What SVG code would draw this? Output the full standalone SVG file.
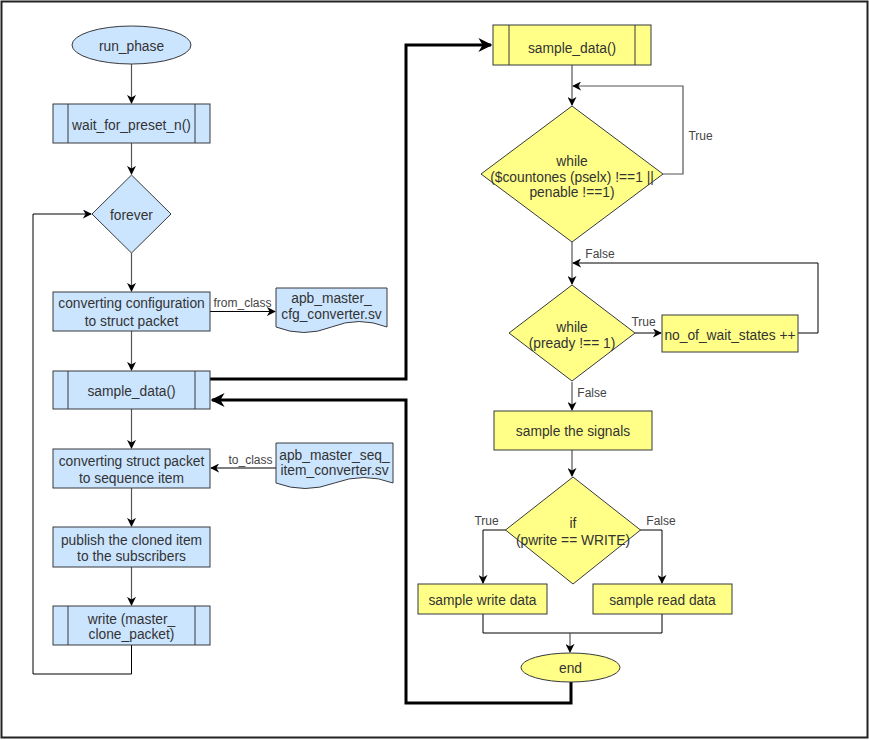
<svg xmlns="http://www.w3.org/2000/svg" width="869" height="740" viewBox="0 0 869 740">
<style>
text{font-family:"Liberation Sans",Arial,sans-serif;font-size:13.8px;fill:#333;text-anchor:middle}
.lbl{font-size:12px;fill:#444}
.blue{fill:#cce5ff;stroke:#36393d;stroke-width:1}
.yel{fill:#ffff88;stroke:#36393d;stroke-width:1}
.in{stroke:#36393d;stroke-width:1;fill:none}
.c{fill:none;stroke:#555;stroke-width:1.2}
.k{fill:none;stroke:#000;stroke-width:1}
.t{fill:none;stroke:#000;stroke-width:3}
</style>
<defs>
<marker id="a" viewBox="0 0 10 10" refX="9" refY="5" markerWidth="9" markerHeight="9" markerUnits="userSpaceOnUse" orient="auto"><path d="M0,0 L10,5 L0,10 L3,5 z" fill="#000"/></marker>
<marker id="at" viewBox="0 0 10 10" refX="9" refY="5" markerWidth="14" markerHeight="14" markerUnits="userSpaceOnUse" orient="auto"><path d="M0,0 L10,5 L0,10 L3,5 z" fill="#000"/></marker>
</defs>
<rect x="1.5" y="1.5" width="866" height="736" fill="#fff" stroke="#222" stroke-width="2"/>

<g id="connectors">
<path class="c" d="M131.5 64 V103" marker-end="url(#a)"/>
<path class="c" d="M131.5 143 V174" marker-end="url(#a)"/>
<path class="c" d="M131.5 253 V291" marker-end="url(#a)"/>
<path class="c" d="M131.5 331 V370" marker-end="url(#a)"/>
<path class="c" d="M131.5 409 V448" marker-end="url(#a)"/>
<path class="c" d="M131.5 488 V526" marker-end="url(#a)"/>
<path class="c" d="M131.5 567 V605" marker-end="url(#a)"/>
<path class="k" d="M131.5 645 V674 H33 V214 H91" marker-end="url(#a)"/>
<path class="k" d="M210 311.5 H275" marker-end="url(#a)"/>
<text class="lbl" x="242.5" y="307">from_class</text>
<path class="k" d="M276 468 H211" marker-end="url(#a)"/>
<text class="lbl" x="250.5" y="464">to_class</text>
<path class="t" d="M210 379 H406 V45 H491" marker-end="url(#at)"/>
<path class="t" d="M571 682 V703 H406 V400 H212" marker-end="url(#at)"/>

<path class="c" d="M572 65 V105" marker-end="url(#a)"/>
<path class="c" d="M663 174 H683 V86 H573" marker-end="url(#a)"/>
<text class="lbl" x="700.5" y="139.5">True</text>
<path class="c" d="M572 242 V284" marker-end="url(#a)"/>
<text class="lbl" x="600" y="258">False</text>
<path class="k" d="M798 333 H818 V263 H573" marker-end="url(#a)"/>
<path class="k" d="M635 333 H661" marker-end="url(#a)"/>
<text class="lbl" x="643.5" y="326">True</text>
<path class="c" d="M572 382 V410" marker-end="url(#a)"/>
<text class="lbl" x="592" y="397">False</text>
<path class="c" d="M572 450 V476" marker-end="url(#a)"/>
<path class="k" d="M506 530 H483 V583" marker-end="url(#a)"/>
<text class="lbl" x="486.5" y="525">True</text>
<path class="k" d="M640 530 H662 V583" marker-end="url(#a)"/>
<text class="lbl" x="661" y="525">False</text>
<path class="k" d="M483 614 V633 H662 V614"/>
<path class="c" d="M570 633 V652" marker-end="url(#a)"/>
</g>

<g id="run_phase"><ellipse class="blue" cx="131.5" cy="45" rx="59.5" ry="19"/><text x="131.5" y="51">run_phase</text></g>
<g id="wait_for_preset_n"><rect class="blue" x="53" y="104" width="157" height="39"/><path class="in" d="M68 104 V143 M195 104 V143"/><text x="131.5" y="130">wait_for_preset_n()</text></g>
<g id="forever"><path class="blue" d="M131.5 175 L171 214 L131.5 253 L92 214 Z"/><text x="131.5" y="220">forever</text></g>
<g id="convert_cfg"><rect class="blue" x="53" y="292" width="157" height="39"/><text x="131.5" y="307.5">converting configuration</text><text x="131.5" y="325.5">to struct packet</text></g>
<g id="cfg_converter"><path class="blue" d="M276 288 H387 V327 Q359 316 331.5 327 Q304 338 276 327 Z"/><text x="331.5" y="303">apb_master_</text><text x="331.5" y="318.5">cfg_converter.sv</text></g>
<g id="sample_data_left"><rect class="blue" x="53" y="371" width="157" height="38"/><path class="in" d="M68 371 V409 M195 371 V409"/><text x="131.5" y="396">sample_data()</text></g>
<g id="convert_struct"><rect class="blue" x="53" y="449" width="157" height="39"/><text x="131.5" y="465.5">converting struct packet</text><text x="131.5" y="483">to sequence item</text></g>
<g id="seq_converter"><path class="blue" d="M276 443 H393 V483 Q364 472 334.5 483 Q305 494 276 483 Z"/><text x="334.5" y="459.5">apb_master_seq_</text><text x="334.5" y="475">item_converter.sv</text></g>
<g id="publish"><rect class="blue" x="53" y="527" width="157" height="40"/><text x="131.5" y="545">publish the cloned item</text><text x="131.5" y="560.5">to the subscribers</text></g>
<g id="write"><rect class="blue" x="53" y="606" width="157" height="39"/><path class="in" d="M68 606 V645 M195 606 V645"/><text x="131.5" y="623.5">write (master_</text><text x="131.5" y="639">clone_packet)</text></g>

<g id="sample_data_right"><rect class="yel" x="493" y="25" width="158" height="40"/><path class="in" d="M509 25 V65 M635 25 V65"/><text x="572" y="53">sample_data()</text></g>
<g id="while1"><path class="yel" d="M572 106 L663 174 L572 242 L481 174 Z"/><text x="572" y="166">while</text><text x="572" y="181.5">($countones (pselx) !==1 ||</text><text x="572" y="197">penable !==1)</text></g>
<g id="while2"><path class="yel" d="M572 285 L635 333 L572 381 L509 333 Z"/><text x="572" y="332">while</text><text x="572" y="348">(pready !== 1)</text></g>
<g id="wait_states"><rect class="yel" x="662" y="315" width="136" height="37"/><text x="730" y="340">no_of_wait_states ++</text></g>
<g id="sample_signals"><rect class="yel" x="494" y="411" width="158" height="39"/><text x="573" y="436">sample the signals</text></g>
<g id="if_write"><path class="yel" d="M573 477 L640.5 530 L573 584 L505.5 530 Z"/><text x="573" y="528">if</text><text x="573" y="544.5">(pwrite == WRITE)</text></g>
<g id="sample_write"><rect class="yel" x="418" y="584" width="129" height="30"/><text x="482.5" y="604.5">sample write data</text></g>
<g id="sample_read"><rect class="yel" x="593" y="584" width="139" height="30"/><text x="662.5" y="604.5">sample read data</text></g>
<g id="end"><ellipse class="yel" cx="570.5" cy="667.5" rx="49.5" ry="14.5"/><text x="570.5" y="673">end</text></g>
</svg>
